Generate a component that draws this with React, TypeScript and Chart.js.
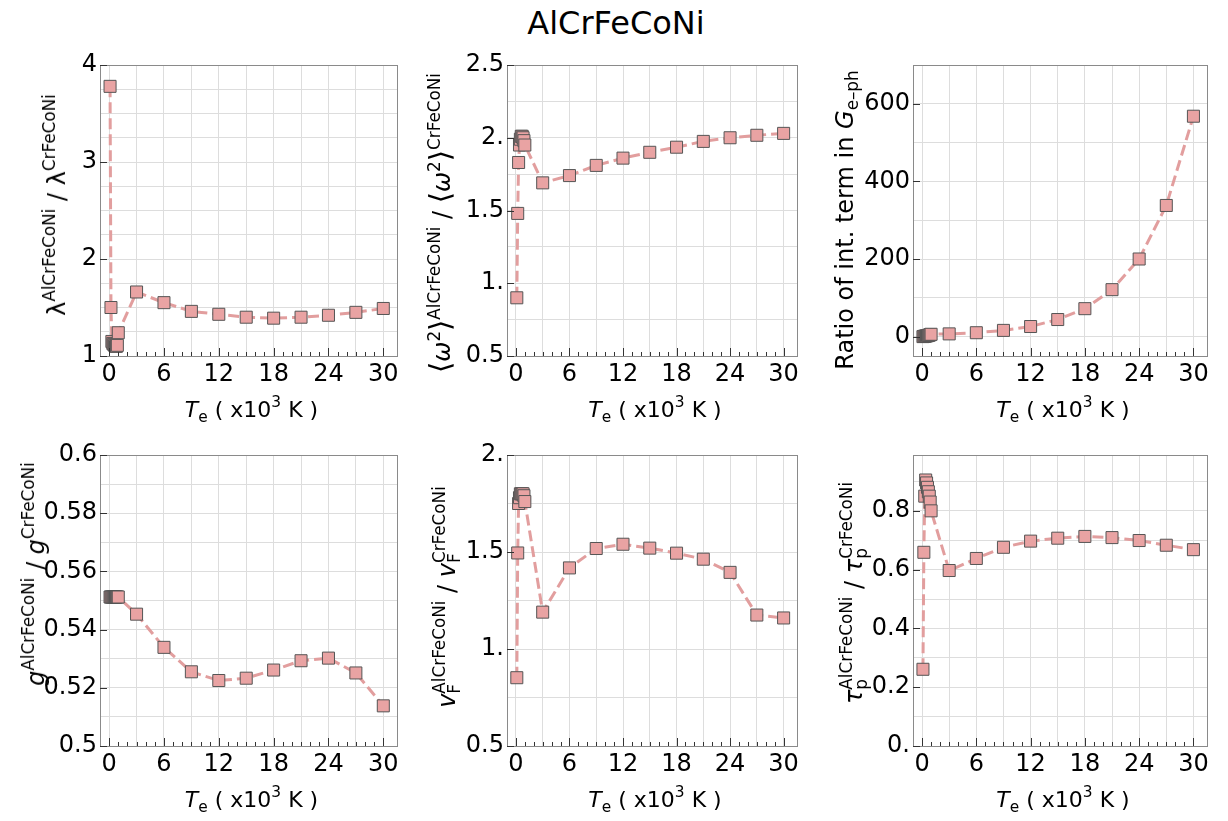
import React, { useEffect, useRef } from 'react';
import { Chart, registerables } from 'chart.js';

Chart.register(...registerables);

// ---------------- data ----------------
const teValues = [0.1, 0.2, 0.3, 0.4, 0.5, 0.6, 0.7, 0.8, 0.9, 1.0, 3, 6, 9, 12, 15, 18, 21, 24, 27, 30];

const lambdaRatio = [3.78, 1.5, 1.15, 1.13, 1.12, 1.11, 1.1, 1.1, 1.11, 1.24, 1.66, 1.55, 1.46, 1.43, 1.4, 1.39, 1.4, 1.42, 1.45, 1.49];
const omega2Ratio = [0.9, 1.48, 1.83, 1.95, 1.99, 2.01, 2.01, 2.0, 1.98, 1.95, 1.69, 1.74, 1.81, 1.86, 1.9, 1.935, 1.975, 2.0, 2.017, 2.03];
const intTermRatio = [0, 0.5, 1, 1.5, 2, 2.5, 3, 4, 5, 6, 7, 10, 16, 26, 44, 72, 121, 200, 338, 568];
const dosRatio = [0.5512, 0.5512, 0.5512, 0.5512, 0.5512, 0.5512, 0.5512, 0.5512, 0.5512, 0.5512, 0.5453, 0.5339, 0.5255, 0.5225, 0.5233, 0.5261, 0.5293, 0.5302, 0.5251, 0.5138];
const vfRatio = [0.852, 1.495, 1.75, 1.78, 1.8, 1.8, 1.8, 1.8, 1.79, 1.76, 1.19, 1.418, 1.518, 1.54, 1.52, 1.494, 1.463, 1.395, 1.175, 1.16];
const tauRatio = [0.261, 0.659, 0.85, 0.905, 0.895, 0.88, 0.865, 0.85, 0.83, 0.8, 0.597, 0.638, 0.676, 0.697, 0.707, 0.713, 0.709, 0.699, 0.683, 0.668];

const xTickValues = [0, 6, 12, 18, 24, 30];
const xTickLabels = ['0', '6', '12', '18', '24', '30'];

const lambdaTickValues = [1, 2, 3, 4];
const lambdaTickLabels = ['1', '2', '3', '4'];
const omegaTickValues = [0.5, 1, 1.5, 2, 2.5];
const omegaTickLabels = ['0.5', '1.', '1.5', '2.', '2.5'];
const intTickValues = [0, 200, 400, 600];
const intTickLabels = ['0', '200', '400', '600'];
const dosTickValues = [0.5, 0.52, 0.54, 0.56, 0.58, 0.6];
const dosTickLabels = ['0.5', '0.52', '0.54', '0.56', '0.58', '0.6'];
const vfTickValues = [0.5, 1, 1.5, 2];
const vfTickLabels = ['0.5', '1.', '1.5', '2.'];
const tauTickValues = [0, 0.2, 0.4, 0.6, 0.8];
const tauTickLabels = ['0.', '0.2', '0.4', '0.6', '0.8'];

// ---------------- style ----------------
const FONT = "'DejaVu Sans', 'Noto Sans', sans-serif";
const LINE_COLOR = 'rgba(226,158,158,1)';
const FILL_COLOR = 'rgb(233,163,163)';
const EDGE_COLOR = '#555555';
const GRID_COLOR = '#dddddd';
const FRAME_COLOR = '#8a8a8a';
const TICK_FONT_SIZE = 24;
const X_MIN = -1;
const X_MAX = 31.5;
const X_MINOR_FIRST = 0;
const X_MINOR_LAST = 30;

const AXIS_W = 78;
const AXIS_H = 42;
const PAD_T = 16;
const PAD_R = 20;

const near = (a: number, b: number) => Math.abs(a - b) < 1e-7 * Math.max(1, Math.abs(b));
const labelFor = (v: number, vals: number[], labels: string[]) => {
  for (let i = 0; i < vals.length; i++) if (near(v, vals[i])) return labels[i];
  return '';
};

const framePlugin = {
  id: 'frameTicks',
  afterDraw(chart: any, _args: any, opts: any) {
    const { ctx, chartArea: a, scales } = chart;
    const xs = scales.x;
    const ys = scales.y;
    ctx.save();
    ctx.setLineDash([]);
    ctx.lineWidth = 1;
    ctx.strokeStyle = FRAME_COLOR;
    ctx.strokeRect(Math.round(a.left) + 0.5, Math.round(a.top) + 0.5, Math.round(a.right - a.left), Math.round(a.bottom - a.top));
    ctx.strokeStyle = '#333333';
    ctx.beginPath();
    for (let v = X_MINOR_FIRST; v <= X_MINOR_LAST; v += 1) {
      const px = Math.round(xs.getPixelForValue(v)) + 0.5;
      const len = xTickValues.indexOf(v) >= 0 ? 8 : 4;
      ctx.moveTo(px, a.bottom);
      ctx.lineTo(px, a.bottom - len);
    }
    const yt: number[] = opts.yTicks || [];
    for (let i = 0; i < yt.length; i++) {
      const py = Math.round(ys.getPixelForValue(yt[i])) + 0.5;
      ctx.moveTo(a.left, py);
      ctx.lineTo(a.left + 7, py);
    }
    ctx.stroke();
    ctx.restore();
  },
};

type PanelProps = {
  values: number[];
  yMin: number;
  yMax: number;
  yStep: number;
  yTickValues: number[];
  yTickLabels: string[];
  left: number;
  top: number;
  width: number;
  height: number;
};

function Panel(p: PanelProps) {
  const ref = useRef<HTMLCanvasElement | null>(null);
  useEffect(() => {
    if (!ref.current) return;
    const zeroPad = (s: any) => {
      s.paddingLeft = 0;
      s.paddingRight = 0;
      s.paddingTop = 0;
      s.paddingBottom = 0;
    };
    const chart = new Chart(ref.current, {
      type: 'scatter',
      data: {
        datasets: [
          {
            data: teValues.map((x, i) => ({ x, y: p.values[i] })),
            showLine: true,
            borderColor: LINE_COLOR,
            borderWidth: 3,
            borderDash: [11, 5],
            pointStyle: 'rect',
            pointRadius: 8.5,
            pointHoverRadius: 8.5,
            pointBackgroundColor: FILL_COLOR,
            pointBorderColor: EDGE_COLOR,
            pointBorderWidth: 1,
            clip: false,
          } as any,
        ],
      },
      options: {
        responsive: false,
        animation: false,
        devicePixelRatio: 1,
        events: [],
        layout: { padding: { top: PAD_T, right: PAD_R, left: 0, bottom: 0 } },
        plugins: {
          legend: { display: false },
          tooltip: { enabled: false },
          title: { display: false },
          frameTicks: { yTicks: p.yTickValues },
        } as any,
        scales: {
          x: {
            type: 'linear',
            min: X_MIN,
            max: X_MAX,
            afterFit: (s: any) => {
              s.height = AXIS_H;
              zeroPad(s);
            },
            ticks: {
              stepSize: 3,
              includeBounds: false,
              autoSkip: false,
              maxRotation: 0,
              minRotation: 0,
              padding: 4,
              color: '#000',
              font: { family: FONT, size: TICK_FONT_SIZE },
              callback: (v: any) => labelFor(Number(v), xTickValues, xTickLabels),
            },
            grid: { color: GRID_COLOR, drawTicks: false, lineWidth: 1 },
            border: { display: false },
          },
          y: {
            type: 'linear',
            min: p.yMin,
            max: p.yMax,
            afterFit: (s: any) => {
              s.width = AXIS_W;
              zeroPad(s);
            },
            ticks: {
              stepSize: p.yStep,
              includeBounds: false,
              autoSkip: false,
              padding: 3,
              color: '#000',
              font: { family: FONT, size: TICK_FONT_SIZE },
              callback: (v: any) => labelFor(Number(v), p.yTickValues, p.yTickLabels),
            },
            grid: { color: GRID_COLOR, drawTicks: false, lineWidth: 1 },
            border: { display: false },
          },
        },
      } as any,
      plugins: [framePlugin as any],
    });
    return () => chart.destroy();
  }, []);
  const cw = AXIS_W + p.width + PAD_R;
  const ch = PAD_T + p.height + AXIS_H;
  return (
    <canvas
      ref={ref}
      width={cw}
      height={ch}
      style={{ position: 'absolute', left: p.left - AXIS_W, top: p.top - PAD_T, width: cw, height: ch }}
    />
  );
}

const Sup = ({ children }: { children: React.ReactNode }) => (
  <span style={{ fontSize: '0.7em', position: 'relative', top: '-0.62em' }}>{children}</span>
);
const Sub = ({ children }: { children: React.ReactNode }) => (
  <span style={{ fontSize: '0.7em', position: 'relative', top: '0.3em' }}>{children}</span>
);
const SubSup = ({ sub, sup }: { sub: string; sup: string }) => (
  <span style={{ position: 'relative', display: 'inline-block' }}>
    <span style={{ fontSize: '0.7em', position: 'relative', top: '-0.62em' }}>{sup}</span>
    <span style={{ fontSize: '0.7em', position: 'absolute', left: 0, top: 11 }}>{sub}</span>
  </span>
);

function YTitle({ cx, cy, children }: { cx: number; cy: number; children: React.ReactNode }) {
  return (
    <div
      style={{
        position: 'absolute',
        left: cx,
        top: cy,
        transform: 'translate(-50%, -50%) rotate(-90deg)',
        fontFamily: FONT,
        fontSize: 24,
        lineHeight: 1,
        whiteSpace: 'nowrap',
        color: '#000',
      }}
    >
      {children}
    </div>
  );
}

function XTitle({ cx, top }: { cx: number; top: number }) {
  return (
    <div
      style={{
        position: 'absolute',
        left: cx,
        top,
        transform: 'translateX(-50%)',
        fontFamily: FONT,
        fontSize: 22,
        lineHeight: 1,
        whiteSpace: 'nowrap',
        color: '#000',
      }}
    >
      <i>T</i>
      <Sub>e</Sub> ( x10<Sup>3</Sup> K )
    </div>
  );
}

const COL_LEFT = [100, 507, 913];
const COL_W = [297, 290, 294];
const ROW_TOP = [65, 455];
const ROW_H = 291;

export default function App() {
  return (
    <div style={{ position: 'absolute', left: 0, top: 0, width: 1228, height: 821, background: '#fff', overflow: 'hidden' }}>
      <Panel values={lambdaRatio} yMin={1} yMax={4} yStep={0.25} yTickValues={lambdaTickValues} yTickLabels={lambdaTickLabels}
        left={COL_LEFT[0]} top={ROW_TOP[0]} width={COL_W[0]} height={ROW_H} />
      <Panel values={omega2Ratio} yMin={0.5} yMax={2.5} yStep={0.25} yTickValues={omegaTickValues} yTickLabels={omegaTickLabels}
        left={COL_LEFT[1]} top={ROW_TOP[0]} width={COL_W[1]} height={ROW_H} />
      <Panel values={intTermRatio} yMin={-50} yMax={700} yStep={100} yTickValues={intTickValues} yTickLabels={intTickLabels}
        left={COL_LEFT[2]} top={ROW_TOP[0]} width={COL_W[2]} height={ROW_H} />
      <Panel values={dosRatio} yMin={0.5} yMax={0.6} yStep={0.01} yTickValues={dosTickValues} yTickLabels={dosTickLabels}
        left={COL_LEFT[0]} top={ROW_TOP[1]} width={COL_W[0]} height={ROW_H} />
      <Panel values={vfRatio} yMin={0.5} yMax={2.0} yStep={0.25} yTickValues={vfTickValues} yTickLabels={vfTickLabels}
        left={COL_LEFT[1]} top={ROW_TOP[1]} width={COL_W[1]} height={ROW_H} />
      <Panel values={tauRatio} yMin={0} yMax={0.99} yStep={0.1} yTickValues={tauTickValues} yTickLabels={tauTickLabels}
        left={COL_LEFT[2]} top={ROW_TOP[1]} width={COL_W[2]} height={ROW_H} />

      <div style={{ position: 'absolute', left: 616, top: 7, transform: 'translateX(-50%)', fontFamily: FONT, fontSize: 32, lineHeight: 1, color: '#000', whiteSpace: 'nowrap' }}>
        AlCrFeCoNi
      </div>

      <YTitle cx={57} cy={205}>
        λ<Sup>AlCrFeCoNi</Sup> / λ<Sup>CrFeCoNi</Sup>
      </YTitle>
      <YTitle cx={440} cy={223}>
        <span style={{ fontSize: '1.2em' }}>⟨</span><i>ω</i><Sup>2</Sup><span style={{ fontSize: '1.2em' }}>⟩</span><Sup>AlCrFeCoNi</Sup> / <span style={{ fontSize: '1.2em' }}>⟨</span><i>ω</i><Sup>2</Sup><span style={{ fontSize: '1.2em' }}>⟩</span><Sup>CrFeCoNi</Sup>
      </YTitle>
      <YTitle cx={845} cy={220}>
        Ratio of int. term in <i>G</i><Sub>e–ph</Sub>
      </YTitle>
      <YTitle cx={36} cy={574}>
        <i>g</i><Sup>AlCrFeCoNi</Sup> / <i>g</i><Sup>CrFeCoNi</Sup>
      </YTitle>
      <YTitle cx={447} cy={597}>
        <i>v</i><SubSup sub="F" sup="AlCrFeCoNi" /> / <i>v</i><SubSup sub="F" sup="CrFeCoNi" />
      </YTitle>
      <YTitle cx={854} cy={593}>
        <i>τ</i><SubSup sub="p" sup="AlCrFeCoNi" /> / <i>τ</i><SubSup sub="p" sup="CrFeCoNi" />
      </YTitle>

      <XTitle cx={COL_LEFT[0] + COL_W[0] / 2 + 3} top={399} />
      <XTitle cx={COL_LEFT[1] + COL_W[1] / 2 + 3} top={399} />
      <XTitle cx={COL_LEFT[2] + COL_W[2] / 2 + 3} top={399} />
      <XTitle cx={COL_LEFT[0] + COL_W[0] / 2 + 3} top={789} />
      <XTitle cx={COL_LEFT[1] + COL_W[1] / 2 + 3} top={789} />
      <XTitle cx={COL_LEFT[2] + COL_W[2] / 2 + 3} top={789} />
    </div>
  );
}
